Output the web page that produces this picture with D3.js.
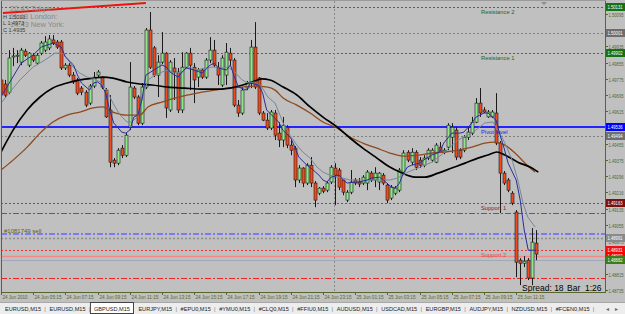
<!DOCTYPE html>
<html><head><meta charset="utf-8">
<script src="https://cdn.jsdelivr.net/npm/d3@7/dist/d3.min.js"></script>
<style>html,body{margin:0;padding:0;background:#c0c0c0;overflow:hidden}svg{display:block}</style>
</head><body><svg id="c" width="625" height="314"></svg>
<script>
// ---------------- DATA ----------------
const opens=[1.49770,1.49750,1.49710,1.49883,1.49888,1.49858,1.49912,1.49843,1.49892,1.49853,
1.49902,1.49917,1.49928,1.49967,1.49957,1.49957,1.49829,1.49843,1.49794,1.49770,
1.49730,1.49710,1.49656,1.49740,1.49794,1.49780,1.49720,1.49622,1.49375,1.49360,
1.49434,1.49399,1.49537,1.49730,1.49686,1.49557,1.49735,1.50016,1.49928,1.49794,
1.49858,1.49902,1.49622,1.49829,1.49809,1.49622,1.49833,1.49902,1.49833,1.49784,
1.49819,1.49784,1.49868,1.49917,1.49833,1.49745,1.49794,1.49902,1.49868,1.49646,
1.49607,1.49730,1.49755,1.49932,1.49780,1.49607,1.49572,1.49533,1.49607,1.49508,
1.49474,1.49537,1.49449,1.49434,1.49277,1.49336,1.49262,1.49350,1.49262,1.49212,
1.49237,1.49227,1.49267,1.49336,1.49326,1.49277,1.49178,1.49217,1.49277,1.49267,
1.49262,1.49262,1.49311,1.49277,1.49267,1.49301,1.49252,1.49188,1.49212,1.49227,
1.49316,1.49414,1.49365,1.49414,1.49375,1.49350,1.49385,1.49375,1.49365,1.49439,
1.49414,1.49439,1.49488,1.49523,1.49424,1.49424,1.49488,1.49508,1.49562,1.49656,
1.49622,1.49588,1.49588,1.49607,1.49459,1.49311,1.49277,1.49212,1.49119,1.48882,
1.48867,1.48882,1.48794,1.48966];
const highs=[1.49784,1.49770,1.49917,1.49928,1.49917,1.49928,1.49923,1.49907,1.49902,1.49902,
1.49962,1.49986,1.49991,1.49991,1.49967,1.49967,1.49853,1.49853,1.49809,1.49780,
1.49740,1.49720,1.49750,1.49809,1.49819,1.49789,1.49730,1.49695,1.49385,1.49434,
1.49449,1.49508,1.49858,1.49740,1.49695,1.49755,1.50026,1.50105,1.49937,1.49892,
1.50006,1.49907,1.49868,1.49878,1.49829,1.49907,1.49907,1.49928,1.49853,1.49829,
1.49829,1.49878,1.49981,1.49967,1.49858,1.49892,1.49952,1.49928,1.49878,1.49671,
1.49735,1.49765,1.49967,1.50055,1.49784,1.49617,1.49607,1.49622,1.49622,1.49562,
1.49588,1.49547,1.49474,1.49444,1.49350,1.49340,1.49360,1.49390,1.49272,1.49242,
1.49247,1.49272,1.49350,1.49360,1.49336,1.49277,1.49227,1.49326,1.49287,1.49287,
1.49301,1.49326,1.49321,1.49340,1.49316,1.49311,1.49262,1.49252,1.49247,1.49336,
1.49424,1.49424,1.49434,1.49424,1.49390,1.49399,1.49434,1.49434,1.49459,1.49464,
1.49434,1.49557,1.49557,1.49537,1.49434,1.49498,1.49537,1.49588,1.49681,1.49730,
1.49636,1.49622,1.49622,1.49705,1.49469,1.49321,1.49287,1.49222,1.49129,1.48892,
1.48902,1.48892,1.49040,1.49030];
const lows=[1.49690,1.49681,1.49700,1.49838,1.49853,1.49843,1.49883,1.49833,1.49858,1.49843,
1.49892,1.49907,1.49917,1.49942,1.49923,1.49819,1.49819,1.49784,1.49750,1.49695,
1.49695,1.49636,1.49646,1.49730,1.49784,1.49725,1.49583,1.49340,1.49340,1.49350,
1.49385,1.49390,1.49523,1.49676,1.49547,1.49547,1.49725,1.49824,1.49784,1.49686,
1.49848,1.49583,1.49612,1.49671,1.49607,1.49607,1.49829,1.49720,1.49656,1.49735,
1.49775,1.49775,1.49853,1.49833,1.49745,1.49735,1.49745,1.49843,1.49636,1.49588,
1.49597,1.49720,1.49730,1.49725,1.49597,1.49567,1.49523,1.49523,1.49474,1.49439,
1.49439,1.49434,1.49399,1.49242,1.49262,1.49242,1.49252,1.49242,1.49143,1.49202,
1.49212,1.49217,1.49257,1.49153,1.49227,1.49202,1.49168,1.49207,1.49252,1.49242,
1.49252,1.49227,1.49267,1.49242,1.49227,1.49252,1.49163,1.49178,1.49202,1.49217,
1.49306,1.49365,1.49350,1.49326,1.49336,1.49340,1.49375,1.49365,1.49360,1.49410,
1.49404,1.49424,1.49410,1.49375,1.49380,1.49414,1.49474,1.49498,1.49557,1.49588,
1.49607,1.49583,1.49583,1.49449,1.49114,1.49252,1.49217,1.49153,1.48798,1.48759,
1.48848,1.48784,1.48759,1.48882];
const closes=[1.49705,1.49695,1.49878,1.49888,1.49892,1.49917,1.49892,1.49902,1.49868,1.49892,
1.49952,1.49957,1.49972,1.49952,1.49932,1.49829,1.49843,1.49794,1.49760,1.49705,
1.49710,1.49646,1.49740,1.49784,1.49809,1.49735,1.49588,1.49365,1.49360,1.49424,
1.49399,1.49498,1.49735,1.49686,1.49557,1.49735,1.50016,1.49833,1.49794,1.49858,
1.49902,1.49632,1.49858,1.49809,1.49622,1.49833,1.49902,1.49843,1.49770,1.49819,
1.49784,1.49868,1.49917,1.49843,1.49794,1.49878,1.49907,1.49868,1.49646,1.49607,
1.49720,1.49755,1.49932,1.49735,1.49607,1.49572,1.49533,1.49612,1.49498,1.49474,
1.49547,1.49449,1.49424,1.49277,1.49336,1.49262,1.49350,1.49262,1.49178,1.49237,
1.49222,1.49262,1.49340,1.49301,1.49242,1.49217,1.49217,1.49267,1.49262,1.49257,
1.49291,1.49316,1.49277,1.49311,1.49311,1.49262,1.49178,1.49242,1.49237,1.49326,
1.49410,1.49375,1.49414,1.49340,1.49350,1.49385,1.49424,1.49424,1.49449,1.49414,
1.49424,1.49547,1.49537,1.49390,1.49390,1.49488,1.49513,1.49562,1.49656,1.49607,
1.49612,1.49612,1.49612,1.49459,1.49311,1.49262,1.49227,1.49163,1.48872,1.48867,
1.48877,1.48794,1.48971,1.48912];

// moving averages: [bar index, price]
const maFast=[[0,1.49686],[5,1.49853],[8,1.49893],[10,1.49932],[13,1.49952],[15,1.49932],[16,1.49883],[18,1.49844],[19,1.49794],[20,1.49755],[22,1.49720],[23,1.49755],[24,1.49760],[25,1.49745],[26,1.49706],[27,1.49622],[28,1.49558],[30,1.49513],[31,1.49508],[32,1.49523],[33,1.49587],[34,1.49597],[35,1.49671],[36,1.49794],[38,1.49819],[40,1.49844],[41,1.49834],[42,1.49809],[44,1.49784],[45,1.49809],[46,1.49829],[48,1.49819],[50,1.49804],[52,1.49844],[53,1.49853],[54,1.49829],[56,1.49819],[57,1.49844],[58,1.49784],[59,1.49735],[61,1.49720],[62,1.49755],[64,1.49745],[65,1.49706],[66,1.49622],[68,1.49582],[69,1.49563],[70,1.49523],[72,1.49484],[73,1.49439],[74,1.49390],[76,1.49350],[77,1.49336],[79,1.49301],[80,1.49277],[81,1.49267],[82,1.49291],[84,1.49301],[85,1.49277],[86,1.49262],[88,1.49267],[89,1.49267],[91,1.49277],[92,1.49286],[94,1.49291],[95,1.49277],[97,1.49242],[98,1.49237],[99,1.49262],[100,1.49311],[101,1.49341],[102,1.49350],[104,1.49360],[105,1.49375],[107,1.49400],[109,1.49415],[110,1.49459],[112,1.49508],[114,1.49508],[115,1.49513],[117,1.49558],[118,1.49587],[120,1.49607],[121,1.49607],[123,1.49572],[124,1.49498],[125,1.49434],[126,1.49360],[128,1.49277],[129,1.49178],[130,1.49030],[131,1.48931],[133,1.48931]];
const maMid=[[0,1.49656],[4.7,1.49770],[8,1.49834],[10.9,1.49868],[13.4,1.49902],[15.2,1.49902],[16.4,1.49878],[17.9,1.49834],[19.6,1.49804],[21.4,1.49784],[22.9,1.49779],[24.6,1.49760],[26.3,1.49720],[27.8,1.49656],[29.6,1.49597],[31.3,1.49563],[32.5,1.49563],[33.8,1.49587],[35,1.49671],[36.5,1.49770],[38.3,1.49794],[40,1.49809],[41.5,1.49819],[43.2,1.49804],[45,1.49809],[46.5,1.49834],[48.7,1.49819],[50.7,1.49829],[52.7,1.49834],[54.9,1.49829],[56.4,1.49834],[58.1,1.49809],[59.9,1.49770],[61.4,1.49755],[63.1,1.49760],[64.8,1.49735],[66.3,1.49686],[68.1,1.49656],[70.1,1.49558],[71.8,1.49498],[73.5,1.49449],[75,1.49415],[76.8,1.49385],[78.5,1.49341],[80,1.49316],[81.7,1.49301],[83.5,1.49291],[85,1.49286],[86.7,1.49277],[89.2,1.49277],[91.7,1.49277],[94.2,1.49277],[96.6,1.49277],[98.4,1.49286],[99.9,1.49301],[101.1,1.49316],[103.6,1.49336],[107.1,1.49365],[110.3,1.49415],[113.5,1.49474],[117,1.49508],[120.2,1.49558],[122.2,1.49563],[123.5,1.49523],[125.2,1.49459],[127,1.49375],[128.4,1.49277],[129.7,1.49163],[130.9,1.49094],[132.7,1.49045]];
const maSlow=[[0,1.49415],[3,1.49523],[6.5,1.49622],[9.7,1.49686],[12.9,1.49730],[16.4,1.49755],[19.6,1.49770],[22.9,1.49779],[25.3,1.49784],[27.8,1.49779],[31.3,1.49760],[34.5,1.49750],[37.5,1.49745],[41.5,1.49735],[45.7,1.49730],[49.9,1.49725],[53.9,1.49725],[58.1,1.49735],[62.4,1.49760],[64.8,1.49775],[66.8,1.49770],[70.1,1.49735],[73.5,1.49696],[76.8,1.49637],[80,1.49587],[83.5,1.49538],[86.7,1.49484],[89.9,1.49434],[93.4,1.49385],[96.6,1.49341],[99.1,1.49316],[102.9,1.49291],[105.3,1.49291],[108.6,1.49311],[112,1.49336],[115.3,1.49360],[118.5,1.49385],[121,1.49400],[123.2,1.49415],[125.2,1.49400],[128.4,1.49365],[131.9,1.49336],[133.5,1.49316]];
const maLong=[[0,1.49326],[3,1.49375],[6.5,1.49439],[9.7,1.49508],[12.9,1.49563],[16.4,1.49597],[19.6,1.49612],[22.9,1.49632],[25.3,1.49637],[27.8,1.49612],[31.3,1.49597],[34.5,1.49597],[36.5,1.49637],[40,1.49661],[43.2,1.49681],[46.5,1.49696],[49.9,1.49710],[53.2,1.49720],[56.4,1.49730],[59.9,1.49735],[63.1,1.49740],[66.3,1.49735],[68.1,1.49720],[70.1,1.49681],[73.5,1.49646],[76.8,1.49607],[80,1.49563],[83.5,1.49533],[86.7,1.49489],[89.9,1.49459],[93.4,1.49434],[96.6,1.49410],[99.9,1.49395],[103.6,1.49400],[107.1,1.49410],[110.3,1.49415],[113.5,1.49424],[117,1.49439],[120.2,1.49459],[122.7,1.49464],[125.2,1.49449],[127.7,1.49410],[130.2,1.49360],[132.7,1.49316]];

// trend lines at the top-left: [bar index, price]
const trendRed=[[0.5,1.50100],[36,1.50149]];
const trendGreen=[[5,1.50110],[36,1.50154]];

// horizontal levels
const levelNames=["Resistance 2","","Resistance 1","Pivot level","","Support 1","","#1081749 sell","","Support 2","","",""];
const levelPrices=[1.50131,1.50001,1.49902,1.49536,1.49494,1.49163,1.49114,1.49011,1.48991,1.48931,1.48902,1.48882,1.48794];

const priceTicks=["1.50095","1.50016","1.49935","1.49855","1.49775","1.49695","1.49615","1.49536","1.49455","1.49375","1.49296","1.49216","1.49135","1.49055","1.48975","1.48895","1.48815","1.48735"];
const timeLabels=["24 Jun 2010","24 Jun 05:15","24 Jun 07:15","24 Jun 09:15","24 Jun 11:15","24 Jun 13:15","24 Jun 15:15","24 Jun 17:15","24 Jun 19:15","24 Jun 21:15","24 Jun 23:15","25 Jun 01:15","25 Jun 03:15","25 Jun 05:15","25 Jun 07:15","25 Jun 09:15","25 Jun 11:15"];
const timeLabelBars=[0,8,16,24,32,40,48,56,64,72,80,88,96,104,112,120,128];
const daySeparatorBar=83;
const tabs=["EURUSD,M15","EURUSD,M15","GBPUSD,M15","EURJPY,M15","#EPU0,M15","#YMU0,M15","#CLQ0,M15","#FFIU0,M15","AUDUSD,M15","USDCAD,M15","EURGBP,M15","AUDJPY,M15","NZDUSD,M15","#FCEN0,M15"];
const activeTab=2;
const infoLeft=["","H 1.5013","L 1.4973","C 1.4935"];
const sessions=["20:43 Tokyo:","11:43 London:","14:43 New York:"];
const spreadText="Spread: 18", barText="Bar  1:26";

// ---------------- STYLES ----------------
const FONT="'Liberation Sans', Arial, sans-serif";
const AX="#56662c";
const levelStyle=[
 {c:"#1f8a1f",d:"2,2",w:1,box:"#167016",tc:"#1e641e"},
 {c:"#808080",d:"2,2",w:1,box:"#6e6e6e"},
 {c:"#1f8a1f",d:"2,2",w:1,box:"#167016",tc:"#1e641e"},
 {c:"#2424ff",d:null,w:2,box:"#0000ff",tc:"#1a1ae0"},
 {c:"#808080",d:"2,2",w:1,box:"#6e6e6e"},
 {c:"#a04040",d:"2,2",w:1,box:"#7a1010",tc:"#8b1a1a"},
 {c:"#ee2222",d:"6,2,2,2",w:1,box:null},
 {c:"#7c7cf0",d:"6,2,2,2",w:2,box:null,tc:"#5c6020"},
 {c:"#8c8c8c",d:"2,2",w:1.5,box:"#8a8a8a"},
 {c:"#ee3333",d:"2,2",w:1,box:"#ee1111",tc:"#e04848"},
 {c:"#f08a8a",d:null,w:1.5,box:"#ff0000"},
 {c:"#a0a8b8",d:null,w:1.2,box:"#3a7d1a"},
 {c:"#ee2222",d:"6,2,2,2",w:1,box:null}
];

const svg=d3.select("#c");
const x=d3.scaleLinear().domain([0,133]).range([1,536.3]);
const y=d3.scaleLinear().domain([1.50095,1.48735]).range([14,290]);
const cx=i=>Math.round(x(i))+0.5;
const cy=v=>Math.round(y(v))+0.5;

svg.append("rect").attr("width",625).attr("height",314).attr("fill","#c0c0c0");
const plot=svg.append("g");
svg.append("defs").append("clipPath").attr("id","pc").append("rect").attr("x",1).attr("y",1).attr("width",604).attr("height",291);
plot.attr("clip-path","url(#pc)");

// levels
levelPrices.forEach((p,k)=>{
  const s=levelStyle[k];
  const yy=s.w===2?Math.round(y(p)):cy(p);
  const l=plot.append("line").attr("x1",1).attr("x2",605).attr("y1",yy).attr("y2",yy)
    .attr("stroke",s.c).attr("stroke-width",s.w);
  if(s.d) l.attr("stroke-dasharray",s.d);
});
// day separator
plot.append("line").attr("x1",cx(daySeparatorBar)-1).attr("x2",cx(daySeparatorBar)-1).attr("y1",1).attr("y2",292)
  .attr("stroke","#8a8a8a").attr("stroke-dasharray","2,2");

// candles
const idx=d3.range(opens.length);
const cg=plot.append("g");
idx.forEach(i=>{
  const xc=cx(i);
  cg.append("line").attr("x1",xc).attr("x2",xc).attr("y1",y(highs[i])).attr("y2",y(lows[i]))
    .attr("stroke","#1a1a1a").attr("stroke-width",1);
  const bull=closes[i]>=opens[i];
  const t=Math.min(y(opens[i]),y(closes[i])), b=Math.max(y(opens[i]),y(closes[i]));
  cg.append("rect").attr("x",xc-1.5).attr("y",t).attr("width",3).attr("height",Math.max(1,b-t))
    .attr("fill",bull?"#8ee88a":"#f24a1e").attr("stroke","#1a1a1a").attr("stroke-width",0.6);
});

// MAs
const line=d3.line().x(d=>x(d[0])).y(d=>y(d[1]));
const smooth=d3.line().x(d=>x(d[0])).y(d=>y(d[1])).curve(d3.curveMonotoneX);
plot.append("path").attr("d",smooth(maLong)).attr("fill","none").attr("stroke","#8e4a1c").attr("stroke-width",1.3);
plot.append("path").attr("d",smooth(maSlow)).attr("fill","none").attr("stroke","#000").attr("stroke-width",1.7);
plot.append("path").attr("d",line(maMid)).attr("fill","none").attr("stroke","#76889a").attr("stroke-width",1);
plot.append("path").attr("d",line(maFast)).attr("fill","none").attr("stroke","#2c2c9a").attr("stroke-width",1);

// trend lines
plot.append("path").attr("d",line(trendGreen)).attr("fill","none").attr("stroke","#a8e0a8").attr("stroke-width",1);
plot.append("path").attr("d",line(trendRed)).attr("fill","none").attr("stroke","#ee1111").attr("stroke-width",2);

// level labels
levelPrices.forEach((p,k)=>{
  const nm=levelNames[k]; if(!nm) return;
  const s=levelStyle[k];
  const isOrder=nm.startsWith("#");
  plot.append("text").attr("x",isOrder?4:481).attr("y",isOrder?cy(p)-2:cy(p)+6)
    .attr("font-family",FONT).attr("font-size",isOrder?6:5.8).attr("fill",s.tc).text(nm);
});

// top-left info text
sessions.forEach((t,k)=>{
  plot.append("text").attr("x",10).attr("y",11+k*8.2).attr("font-family",FONT).attr("font-size",7.5)
    .attr("fill","#888888").text(t);
});
infoLeft.forEach((t,k)=>{
  if(!t) return;
  plot.append("text").attr("x",3).attr("y",12+k*6.5).attr("font-family",FONT).attr("font-size",5.5)
    .attr("fill","#3c3c3c").text(t);
});

// spread / bar
svg.append("text").attr("x",522).attr("y",291).attr("font-family",FONT).attr("font-size",8.5).attr("fill","#000").text(spreadText);
svg.append("text").attr("x",567).attr("y",291).attr("font-family",FONT).attr("font-size",8.5).attr("fill","#000")
  .attr("xml:space","preserve").text(barText);

// frame
svg.append("line").attr("x1",1.5).attr("x2",1.5).attr("y1",0).attr("y2",293).attr("stroke",AX);
svg.append("line").attr("x1",605.5).attr("x2",605.5).attr("y1",0).attr("y2",293).attr("stroke",AX);
svg.append("line").attr("x1",1).attr("x2",606).attr("y1",292.5).attr("y2",292.5).attr("stroke",AX);
svg.append("line").attr("x1",1).attr("x2",606).attr("y1",0.5).attr("y2",0.5).attr("stroke","#9a9a9a");
// chart-shift marker
svg.append("path").attr("d","M541,2 L547,2 L544,5 Z").attr("fill","#8a8a9a");

// price axis
priceTicks.forEach(t=>{
  const v=+t, yy=cy(v);
  svg.append("line").attr("x1",605).attr("x2",608).attr("y1",yy).attr("y2",yy).attr("stroke",AX);
  svg.append("text").attr("x",608.5).attr("y",yy+2.3).attr("font-family",FONT).attr("font-size",6.2)
    .attr("textLength",15).attr("lengthAdjust","spacingAndGlyphs").attr("fill",AX).text(t);
});
// price boxes
levelPrices.forEach((p,k)=>{
  const s=levelStyle[k]; if(!s.box) return;
  const yy=Math.round(y(p));
  svg.append("rect").attr("x",606).attr("y",yy-4).attr("width",19).attr("height",8).attr("fill",s.box);
  svg.append("text").attr("x",607.5).attr("y",yy+2.3).attr("font-family",FONT).attr("font-size",6.2)
    .attr("textLength",15).attr("lengthAdjust","spacingAndGlyphs").attr("fill","#fff").text(p.toFixed(5));
});

// time axis
timeLabels.forEach((t,k)=>{
  const xx=cx(timeLabelBars[k]);
  svg.append("line").attr("x1",xx).attr("x2",xx).attr("y1",292).attr("y2",295).attr("stroke",AX);
  svg.append("text").attr("x",xx+1).attr("y",299).attr("font-family",FONT).attr("font-size",5.6)
    .attr("textLength",t.length===11?25:27).attr("lengthAdjust","spacingAndGlyphs").attr("fill",AX).text(t);
});

// tab bar
svg.append("rect").attr("x",0).attr("y",302).attr("width",625).attr("height",12).attr("fill","#ededed");
svg.append("line").attr("x1",0).attr("x2",625).attr("y1",302.5).attr("y2",302.5).attr("stroke","#a8a8a8");
let tx=5;
const tg=svg.append("g");
tabs.forEach((t,k)=>{
  const el=tg.append("text").attr("x",tx).attr("y",310.5).attr("font-family",FONT).attr("font-size",5.6)
    .attr("fill","#222").text(t);
  const w=el.node().getComputedTextLength();
  if(k===activeTab){
    tg.insert("rect","text").attr("x",tx-3.5).attr("y",302.5).attr("width",w+7).attr("height",11)
      .attr("fill","#fff").attr("stroke","#444");
  } else {
    tg.append("text").attr("x",tx+w+3.2).attr("y",310.5).attr("font-family",FONT).attr("font-size",5.6).attr("fill","#777").text("|");
  }
  tx+=w+8.4;
});
svg.append("text").attr("x",606).attr("y",310.5).attr("font-family",FONT).attr("font-size",5.5).attr("fill","#666").text("◂");
svg.append("text").attr("x",615).attr("y",310.5).attr("font-family",FONT).attr("font-size",5.5).attr("fill","#666").text("▸");
</script></body></html>
